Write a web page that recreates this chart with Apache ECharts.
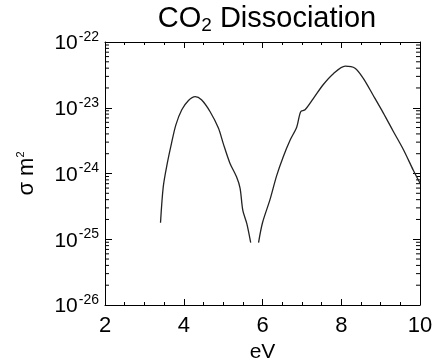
<!DOCTYPE html>
<html>
<head>
<meta charset="utf-8">
<script src="https://cdn.jsdelivr.net/npm/echarts@6/dist/echarts.min.js"></script>
<style>
  html, body { margin: 0; padding: 0; background: #fff; }
  #chart { width: 432px; height: 362px; }
</style>
</head>
<body>
<div id="chart"></div>
<script>
// Photon energy (eV) and cross section (m^2), two branches separated by a gap near 5.8 eV
const energyLow = [3.41, 3.48, 3.58, 3.69, 3.80, 3.95, 4.12, 4.29, 4.45, 4.67, 4.88, 5.00, 5.17, 5.34, 5.43, 5.50, 5.60, 5.70];
const sigmaLow  = [1.78e-25, 6.3e-25, 1.41e-24, 2.9e-24, 5.5e-24, 9.3e-24, 1.29e-23, 1.48e-23, 1.32e-23, 8.7e-24, 4.9e-24, 2.9e-24, 1.45e-24, 8.9e-25, 6.0e-25, 2.75e-25, 1.74e-25, 8.9e-26];

const energyHigh = [5.90, 6.00, 6.19, 6.36, 6.53, 6.70, 6.87, 6.97, 7.08, 7.29, 7.54, 7.80, 8.10, 8.35, 8.56, 8.81, 9.07, 9.32, 9.58, 9.83, 10.0];
const sigmaHigh  = [8.9e-26, 1.78e-25, 4.0e-25, 9.3e-25, 1.82e-24, 3.2e-24, 5.1e-24, 8.7e-24, 9.3e-24, 1.38e-23, 2.24e-23, 3.3e-23, 4.3e-23, 4.0e-23, 2.8e-23, 1.55e-23, 8.3e-24, 4.4e-24, 2.3e-24, 1.12e-24, 7.1e-25];

// Axis ticks: energy labels and decade exponents of the cross section
const xTicks = [2, 4, 6, 8, 10];
const yExponents = [-26, -25, -24, -23, -22];
const minorMultipliers = [2, 3, 4, 5, 6, 7, 8, 9];

const FONT = '"Liberation Sans", Arial, Helvetica, sans-serif';
const INK = '#000';

// The vertical axis is a linear axis over log10(sigma)
const log10 = Math.log10;
function pairs(xs, ys) { return xs.map((x, i) => [x, log10(ys[i])]); }

const yMinorLog = [];
for (let i = 0; i < yExponents.length - 1; i++) {
  minorMultipliers.forEach(m => yMinorLog.push(yExponents[i] + log10(m)));
}

const xMin = xTicks[0], xMax = xTicks[xTicks.length - 1];
const yMin = yExponents[0], yMax = yExponents[yExponents.length - 1];

const chart = echarts.init(document.getElementById('chart'), null, { renderer: 'canvas' });

const yAxisBase = {
  type: 'value', min: yMin, max: yMax, interval: 1,
  axisLine: { show: true, onZero: false, lineStyle: { color: INK, width: 1 } },
  axisTick: { show: true, inside: true, length: 7, lineStyle: { color: INK } },
  splitLine: { show: false }
};
const xAxisBase = {
  type: 'value', min: xMin, max: xMax, interval: 2,
  axisLine: { show: true, onZero: false, lineStyle: { color: INK, width: 1 } },
  axisTick: { show: true, inside: true, length: 6, lineStyle: { color: INK } },
  minorTick: { show: true, splitNumber: 4, length: 3, lineStyle: { color: INK } },
  splitLine: { show: false }
};

const option = {
  backgroundColor: '#fff',
  animation: false,
  title: {
    text: '{a|CO}{sub|2}{a| Dissociation}',
    left: 262, top: -2,
    textAlign: 'center',
    textStyle: {
      fontWeight: 'normal',
      rich: {
        a: { fontFamily: FONT, fontSize: 29, fontWeight: 'normal', color: INK, lineHeight: 32 },
        sub: { fontFamily: FONT, fontSize: 19, fontWeight: 'normal', color: INK, lineHeight: 32, padding: [14, 0, 0, 0] }
      }
    }
  },
  grid: { left: 105, right: 12, top: 42, bottom: 57, containLabel: false, outerBoundsMode: 'none' },
  xAxis: [
    Object.assign({}, xAxisBase, {
      position: 'bottom',
      name: 'eV', nameLocation: 'middle', nameGap: 33,
      nameTextStyle: { fontFamily: FONT, fontSize: 21, color: INK },
      axisLabel: { fontFamily: FONT, fontSize: 22, color: INK, margin: 10 }
    }),
    Object.assign({}, xAxisBase, { position: 'top', axisLabel: { show: false } })
  ],
  yAxis: [
    Object.assign({}, yAxisBase, {
      position: 'left',
      name: '{a|σ m}{sup|2}', nameLocation: 'middle', nameGap: 66, nameRotate: 90,
      nameTextStyle: {
        rich: {
          a: { fontFamily: FONT, fontSize: 22, color: INK, lineHeight: 24 },
          sup: { fontFamily: FONT, fontSize: 11, color: INK, lineHeight: 24, verticalAlign: 'top', padding: [0, 0, 10, 0] }
        }
      },
      axisLabel: {
        margin: 6,
        formatter: function (v) { return '{b|10}{s|' + Math.round(v) + '}'; },
        rich: {
          b: { fontFamily: FONT, fontSize: 21, color: INK, lineHeight: 24, verticalAlign: 'bottom' },
          s: { fontFamily: FONT, fontSize: 14, color: INK, lineHeight: 24, verticalAlign: 'top', padding: [0, 0, 12, 1] }
        }
      }
    }),
    Object.assign({}, yAxisBase, { position: 'right', axisLabel: { show: false } })
  ],
  series: [
    {
      type: 'line', xAxisIndex: 0, yAxisIndex: 0,
      data: pairs(energyLow, sigmaLow),
      showSymbol: false, smooth: 0.3,
      lineStyle: { color: '#222', width: 1.3 }
    },
    {
      type: 'line', xAxisIndex: 0, yAxisIndex: 0,
      data: pairs(energyHigh, sigmaHigh),
      showSymbol: false, smooth: 0.3,
      lineStyle: { color: '#222', width: 1.3 }
    },
    {
      // logarithmic minor ticks (2..9 per decade) on both vertical edges
      type: 'custom', xAxisIndex: 0, yAxisIndex: 0, silent: true,
      data: yMinorLog.map(v => [xMin, v]).concat(yMinorLog.map(v => [xMax, v])),
      renderItem: function (params, api) {
        const x = api.value(0);
        const p = api.coord([x, api.value(1)]);
        const dir = x === xMin ? 1 : -1;
        return {
          type: 'line',
          shape: { x1: p[0], y1: p[1], x2: p[0] + dir * 4, y2: p[1] },
          style: { stroke: INK, lineWidth: 1 }
        };
      }
    }
  ]
};

chart.setOption(option);
</script>
</body>
</html>
